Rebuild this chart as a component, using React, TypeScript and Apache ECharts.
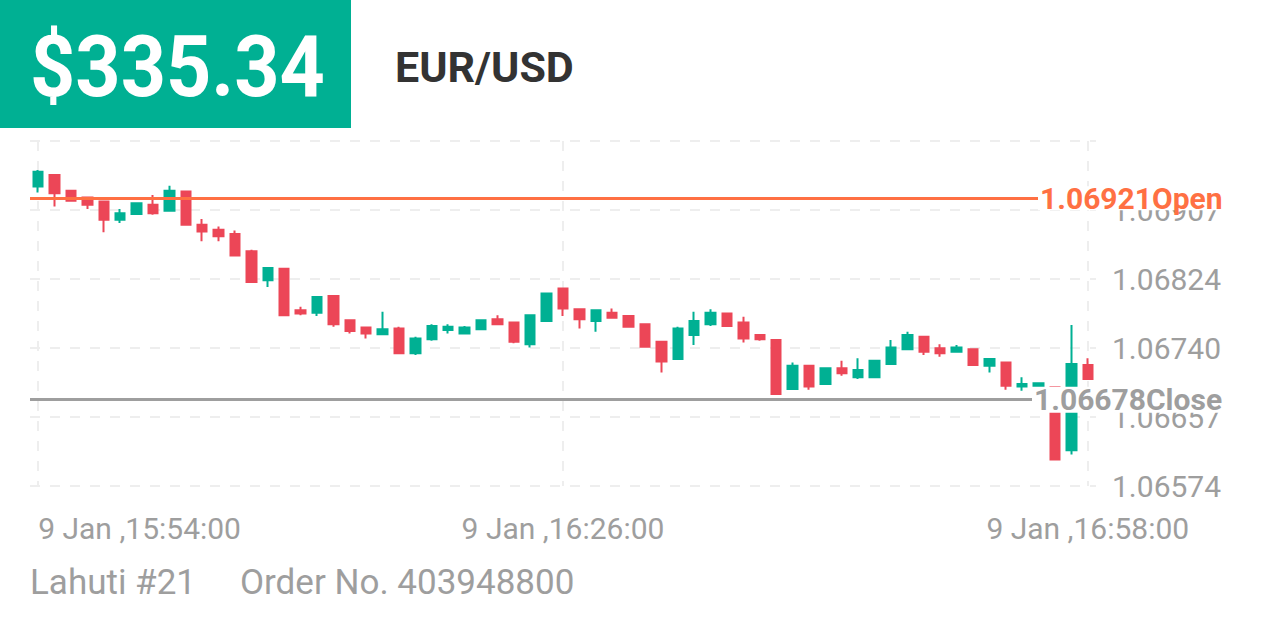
import React, { useEffect, useRef } from "react";
import * as echarts from "echarts";

const times = [
  "15:54", "15:55", "15:56", "15:57", "15:58", "15:59", "16:00", "16:01", "16:02", "16:03",
  "16:04", "16:05", "16:06", "16:07", "16:08", "16:09", "16:10", "16:11", "16:12", "16:13",
  "16:14", "16:15", "16:16", "16:17", "16:18", "16:19", "16:20", "16:21", "16:22", "16:23",
  "16:24", "16:25", "16:26", "16:27", "16:28", "16:29", "16:30", "16:31", "16:32", "16:33",
  "16:34", "16:35", "16:36", "16:37", "16:38", "16:39", "16:40", "16:41", "16:42", "16:43",
  "16:44", "16:45", "16:46", "16:47", "16:48", "16:49", "16:50", "16:51", "16:52", "16:53",
  "16:54", "16:55", "16:56", "16:57", "16:58",
];

const opens = [
  1.06935, 1.06949, 1.0693, 1.06922, 1.06917, 1.06895, 1.06902, 1.06913, 1.06906, 1.06929,
  1.06889, 1.06883, 1.06878, 1.06857, 1.06822, 1.06836, 1.06786, 1.06783, 1.06803, 1.06774,
  1.06765, 1.06757, 1.06764, 1.06734, 1.06751, 1.06762, 1.06758, 1.06763, 1.06775, 1.06771,
  1.06745, 1.06773, 1.06812, 1.06787, 1.06773, 1.06783, 1.06779, 1.06769, 1.06748, 1.06727,
  1.06756, 1.06769, 1.06782, 1.06771, 1.06756, 1.0675, 1.06691, 1.06719, 1.06697, 1.06716,
  1.06705, 1.06705, 1.06721, 1.06739, 1.06754, 1.0674, 1.06736, 1.06739, 1.06719, 1.06723,
  1.06694, 1.06694, 1.06693, 1.06617, 1.0672,
];
const closes = [
  1.06953, 1.06927, 1.06918, 1.06913, 1.06895, 1.06903, 1.06915, 1.06903, 1.0693, 1.06889,
  1.06881, 1.06875, 1.06852, 1.0682, 1.06837, 1.0678, 1.06782, 1.06802, 1.06769, 1.06761,
  1.06758, 1.06763, 1.06734, 1.06752, 1.06767, 1.06766, 1.06765, 1.06774, 1.06769, 1.06748,
  1.0678, 1.06806, 1.06788, 1.06775, 1.06786, 1.06777, 1.06766, 1.06742, 1.06724, 1.06764,
  1.06773, 1.06783, 1.06767, 1.06752, 1.06751, 1.06685, 1.06719, 1.06694, 1.06716, 1.0671,
  1.06714, 1.06725, 1.06741, 1.06756, 1.06736, 1.06734, 1.06741, 1.0672, 1.06727, 1.06695,
  1.06697, 1.06698, 1.06606, 1.06721, 1.06703,
];
const lows = [
  1.06928, 1.06911, 1.06917, 1.06908, 1.0688, 1.06891, 1.06902, 1.06901, 1.06906, 1.06889,
  1.06869, 1.06869, 1.06851, 1.0682, 1.06814, 1.0678, 1.0678, 1.06779, 1.06766, 1.06758,
  1.06752, 1.06757, 1.06734, 1.06732, 1.06749, 1.06758, 1.06757, 1.06763, 1.06769, 1.06746,
  1.06741, 1.06773, 1.06779, 1.06764, 1.0676, 1.06777, 1.06766, 1.06742, 1.06711, 1.06727,
  1.06744, 1.06767, 1.06767, 1.06747, 1.06749, 1.06685, 1.06691, 1.0669, 1.06697, 1.06707,
  1.06703, 1.06705, 1.0672, 1.06739, 1.06732, 1.0673, 1.06735, 1.0672, 1.06711, 1.0669,
  1.06689, 1.06693, 1.06606, 1.06612, 1.06703,
];
const highs = [
  1.06955, 1.06949, 1.0693, 1.06922, 1.06917, 1.06908, 1.06915, 1.06925, 1.06936, 1.06929,
  1.06896, 1.06887, 1.06882, 1.06859, 1.06837, 1.06836, 1.0679, 1.06802, 1.06804, 1.06774,
  1.06766, 1.06784, 1.06766, 1.06754, 1.06769, 1.06769, 1.06767, 1.06774, 1.0678, 1.06771,
  1.0678, 1.06806, 1.06812, 1.06788, 1.06786, 1.06788, 1.06779, 1.06769, 1.06748, 1.06766,
  1.06784, 1.06787, 1.06782, 1.06778, 1.06756, 1.0675, 1.06723, 1.06719, 1.06716, 1.06725,
  1.06728, 1.06725, 1.0675, 1.0676, 1.06754, 1.06745, 1.06744, 1.06739, 1.06727, 1.06723,
  1.06705, 1.06699, 1.06693, 1.06768, 1.06728,
];

const openPrice = 1.06921;
const closePrice = 1.06678;
const yMin = 1.06574;
const yStep = 0.000832;
const ySteps = 5;

const priceText = "$335.34";
const pairText = "EUR/USD";
const accountText = "Lahuti #21";
const orderText = "Order No. 403948800";

const GREEN = "#00b093";
const RED = "#ec4657";
const ORANGE = "#ff7043";
const GREY = "#9e9e9e";
const FONT = "Roboto";

export default function App() {
  const ref = useRef<HTMLDivElement>(null);

  useEffect(() => {
    if (!ref.current) return;
    const chart = echarts.init(ref.current, undefined, { renderer: "svg" });
    const categories = times.map((t) => "9 Jan ," + t + ":00");
    const ohlc = opens.map((o, i) => [o, closes[i], lows[i], highs[i]]);
    const yMax = yMin + yStep * ySteps;

    const option: any = {
      animation: false,
      backgroundColor: "#ffffff",
      grid: { left: 30, right: 170, top: 141, bottom: 147, containLabel: false },
      xAxis: {
        type: "category",
        data: categories,
        boundaryGap: true,
        axisLine: { show: false },
        axisTick: { show: false },
        axisLabel: {
          interval: 31,
          color: GREY,
          fontFamily: FONT,
          fontSize: 30,
          margin: 27,
          alignMinLabel: "left",
        },
        splitLine: {
          show: true,
          interval: 31,
          alignWithLabel: true,
          lineStyle: { color: "#eeeeee", width: 2, type: [10, 10] },
        },
      },
      yAxis: {
        type: "value",
        position: "right",
        min: yMin,
        max: yMax,
        interval: yStep,
        axisLine: { show: false },
        axisTick: { show: false },
        axisLabel: {
          showMaxLabel: false,
          color: GREY,
          fontFamily: FONT,
          fontSize: 30,
          margin: 16,
          formatter: (v: number) => v.toFixed(5),
        },
        splitLine: {
          show: true,
          lineStyle: { color: "#eeeeee", width: 2, type: [10, 10] },
        },
      },
      series: [
        {
          type: "candlestick",
          data: ohlc,
          barWidth: 10,
          itemStyle: {
            color: GREEN,
            color0: RED,
            borderColor: GREEN,
            borderColor0: RED,
            borderWidth: 2,
          },
          markLine: {
            silent: true,
            symbol: "none",
            precision: 5,
            animation: false,
            data: [
              {
                yAxis: openPrice,
                lineStyle: { color: ORANGE, width: 3, type: "solid" },
                label: {
                  show: true,
                  position: "end",
                  distance: -58,
                  formatter: openPrice.toFixed(5) + "Open",
                  color: ORANGE,
                  fontFamily: FONT,
                  fontWeight: "bold",
                  fontSize: 30,
                  lineHeight: 24,
                  backgroundColor: "#ffffff",
                  padding: [0, 2, 0, 2],
                },
              },
              {
                yAxis: closePrice,
                lineStyle: { color: GREY, width: 3, type: "solid" },
                label: {
                  show: true,
                  position: "end",
                  distance: -64,
                  formatter: closePrice.toFixed(5) + "Close",
                  color: GREY,
                  fontFamily: FONT,
                  fontWeight: "bold",
                  fontSize: 30,
                  lineHeight: 26,
                  backgroundColor: "#ffffff",
                  padding: [0, 2, 0, 2],
                },
              },
            ],
          },
        },
      ],
      graphic: [
        { type: "rect", left: 0, top: 0, shape: { width: 351, height: 128 }, style: { fill: GREEN } },
        {
          type: "text",
          x: 30,
          y: 67,
          scaleY: 1.08,
          style: {
            text: priceText,
            fill: "#ffffff",
            font: "bold 79px Roboto",
            verticalAlign: "middle",
            align: "left",
          },
        },
        {
          type: "text",
          x: 395,
          y: 67,
          style: {
            text: pairText,
            fill: "#333333",
            font: "bold 43px Roboto",
            verticalAlign: "middle",
            align: "left",
          },
        },
        {
          type: "text",
          x: 30,
          y: 582,
          style: {
            text: accountText,
            fill: GREY,
            font: "35px Roboto",
            verticalAlign: "middle",
            align: "left",
          },
        },
        {
          type: "text",
          x: 240,
          y: 582,
          style: {
            text: orderText,
            fill: GREY,
            font: "35px Roboto",
            verticalAlign: "middle",
            align: "left",
          },
        },
      ],
    };
    chart.setOption(option);
    return () => chart.dispose();
  }, []);

  return (
    <div
      ref={ref}
      style={{ position: "fixed", left: 0, top: 0, width: 1266, height: 633, background: "#fff" }}
    />
  );
}
